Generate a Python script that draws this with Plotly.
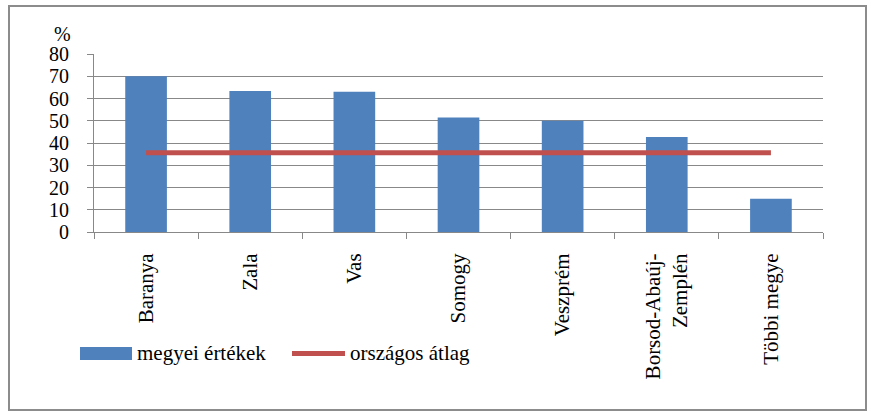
import plotly.graph_objects as go

categories = ["Baranya", "Zala", "Vas", "Somogy", "Veszprém", "Borsod-Abaúj-<br>Zemplén", "Többi megye"]
county_values = [70, 63.4, 63, 51.5, 50, 42.7, 15]
national_avg = [35.6] * len(categories)
y_ticks = [0, 10, 20, 30, 40, 50, 60, 70, 80]

W, H = 871, 412
L, R, T, B = 94, 823, 54, 232
FONT = "Times New Roman, Times, serif"
FS = 21
FSY = 20

def px(x):
    return (x - L) / (R - L)

def py(y):
    return (B - y) / (B - T)

fig = go.Figure()
fig.add_trace(go.Bar(x=categories, y=county_values, name="megyei értékek",
                     marker=dict(color="#4F81BD", line=dict(width=0)), showlegend=False))
fig.add_trace(go.Scatter(x=categories, y=national_avg, name="országos átlag", mode="lines",
                         line=dict(color="#C0504D", width=5), showlegend=False))

shapes = [
    dict(type="rect", xref="paper", yref="paper", x0=px(9), x1=px(866), y0=py(410), y1=py(6),
         line=dict(color="#8c8c8c", width=2), fillcolor="rgba(0,0,0,0)", layer="below"),
    dict(type="rect", xref="paper", yref="paper", x0=px(80), x1=px(132), y0=py(360), y1=py(347),
         line=dict(width=0), fillcolor="#4F81BD"),
    dict(type="line", xref="paper", yref="paper", x0=px(292), x1=px(345), y0=py(353.5), y1=py(353.5),
         line=dict(color="#C0504D", width=5)),
]
annotations = [
    dict(text="%", xref="paper", yref="paper", x=px(73), y=py(34), xanchor="right", yanchor="middle",
         showarrow=False, font=dict(family=FONT, size=FSY, color="black")),
    dict(text="megyei értékek", xref="paper", yref="paper", x=px(135), y=py(353), xanchor="left",
         yanchor="middle", showarrow=False, font=dict(family=FONT, size=FS, color="black")),
    dict(text="országos átlag", xref="paper", yref="paper", x=px(348), y=py(353), xanchor="left",
         yanchor="middle", showarrow=False, font=dict(family=FONT, size=FS, color="black")),
]

fig.update_layout(
    width=W, height=H,
    margin=dict(l=L, r=W - R, t=T, b=H - B, pad=0),
    paper_bgcolor="white", plot_bgcolor="white",
    bargap=0.6,
    showlegend=False,
    shapes=shapes, annotations=annotations,
    font=dict(family=FONT, size=FS, color="black"),
)
fig.update_xaxes(
    type="category", tickangle=-90, showgrid=False,
    showline=True, linecolor="#888888", linewidth=1,
    ticks="outside", tickson="boundaries", ticklen=6, tickcolor="#888888",
    ticklabelstandoff=12,
    tickfont=dict(family=FONT, size=FS, color="black"),
)
fig.update_yaxes(
    range=[0, 80], tickvals=y_ticks, showgrid=True, gridcolor="#888888", gridwidth=1,
    showline=True, linecolor="#888888", linewidth=1,
    ticks="outside", ticklen=6, tickcolor="#888888", zeroline=False,
    ticklabelstandoff=14,
    tickfont=dict(family=FONT, size=FSY, color="black"),
)

fig.write_html("out.html")
